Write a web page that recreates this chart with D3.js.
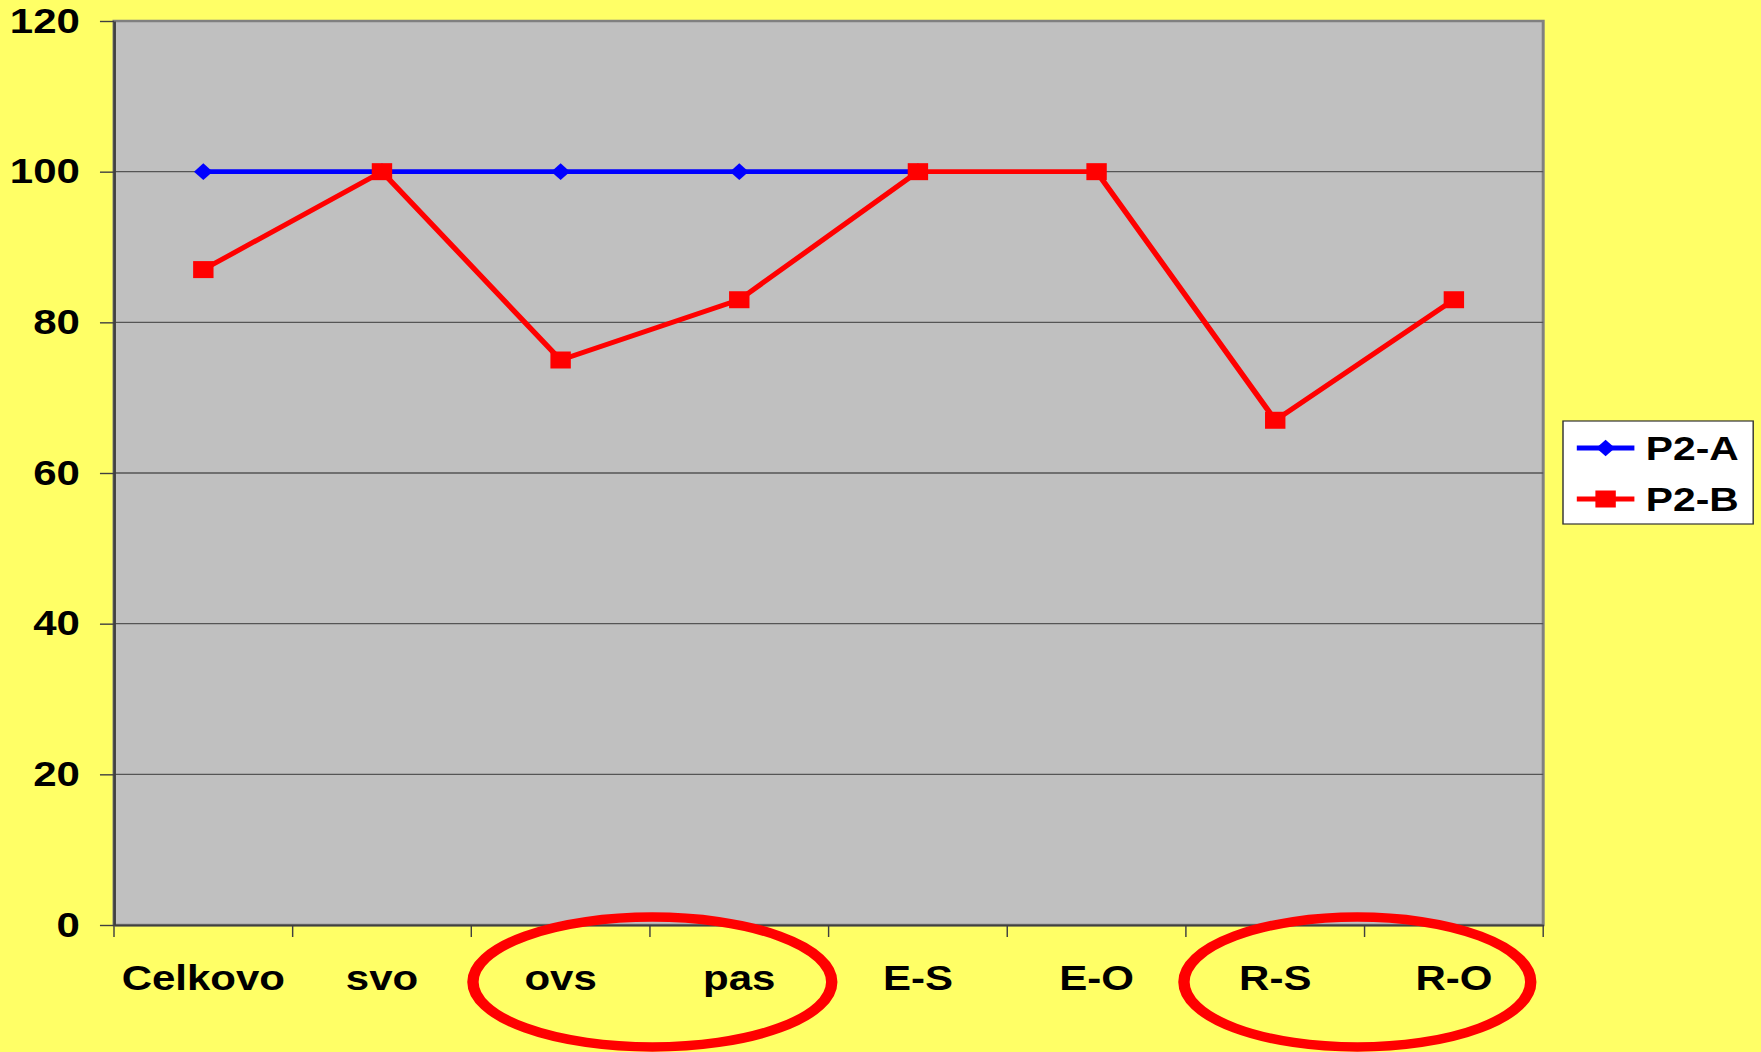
<!DOCTYPE html>
<html>
<head>
<meta charset="utf-8">
<script src="https://cdn.jsdelivr.net/npm/d3@7"></script>
<style>
  html, body { margin: 0; padding: 0; background: #FFFF66; overflow: hidden; }
  text { font-family: Arial, "Liberation Sans", sans-serif; font-weight: bold; fill: #000; }
</style>
</head>
<body>
<div class="viz"></div>
<script>
// data
const categories = ['Celkovo', 'svo', 'ovs', 'pas', 'E-S', 'E-O', 'R-S', 'R-O']
const seriesA = [100, 100, 100, 100, 100, null, null, null]   // P2-A
const seriesB = [87, 100, 75, 83, 100, 100, 67, 83]           // P2-B
const yTicks = [0, 20, 40, 60, 80, 100, 120]
const seriesNames = ['P2-A', 'P2-B']
// circled pairs (the ring sits on the boundary between the two)
const circled = [['ovs', 'pas'], ['R-S', 'R-O']]

const width = 1761
const height = 1052
const stretch = 1.2            // the original picture is stretched sideways
const vw = width / stretch

const plotLeft = 95, plotRight = 1286, plotTop = 21, plotBottom = 925

const svg = d3.select('.viz')
  .append('svg')
  .attr('width', width)
  .attr('height', height)
  .attr('viewBox', `0 0 ${vw} ${height}`)
  .attr('preserveAspectRatio', 'none')
  .style('display', 'block')

svg.append('rect')
  .attr('width', vw).attr('height', height)
  .attr('fill', '#FFFF66')

const x = d3.scaleBand().domain(categories).range([plotLeft, plotRight])
const y = d3.scaleLinear().domain([0, 120]).range([plotBottom, plotTop])

// plot area
svg.append('rect')
  .attr('x', plotLeft).attr('y', plotTop)
  .attr('width', plotRight - plotLeft).attr('height', plotBottom - plotTop)
  .attr('fill', '#C0C0C0')
  .attr('stroke', '#808080')
  .attr('stroke-width', 2.5)

// gridlines
svg.append('g')
  .selectAll('line')
  .data(yTicks.filter(t => t > 0 && t < 120))
  .enter()
  .append('line')
  .attr('x1', plotLeft).attr('x2', plotRight)
  .attr('y1', d => y(d)).attr('y2', d => y(d))
  .attr('stroke', '#555')
  .attr('stroke-width', 1.4)

// y axis
const yAxis = svg.append('g')
  .attr('transform', `translate(${plotLeft},0)`)
  .call(d3.axisLeft(y).tickValues(yTicks).tickSizeInner(11.7).tickSizeOuter(0).tickPadding(16.7))
yAxis.select('.domain').attr('stroke', '#404040').attr('stroke-width', 2.2)
yAxis.selectAll('.tick line').attr('stroke', '#404040').attr('stroke-width', 1.4)
yAxis.selectAll('text').style('font-size', '35px').attr('fill', '#000')

// x axis: labels at band centres, ticks at band edges
const xAxis = svg.append('g')
  .attr('transform', `translate(0,${plotBottom})`)
  .call(d3.axisBottom(x).tickSize(0).tickPadding(40))
xAxis.select('.domain').attr('stroke', '#404040').attr('stroke-width', 2.2)
xAxis.selectAll('text').style('font-size', '35px').attr('fill', '#000')

const edges = categories.map(c => x(c)).concat([x.range()[1]])
svg.append('g')
  .selectAll('line')
  .data(edges)
  .enter()
  .append('line')
  .attr('x1', d => d).attr('x2', d => d)
  .attr('y1', plotBottom).attr('y2', plotBottom + 12)
  .attr('stroke', '#404040')
  .attr('stroke-width', 1.2)

// lines
const cx = i => x(categories[i]) + x.bandwidth() / 2
const line = d3.line()
  .defined(d => d != null)
  .x((d, i) => cx(i))
  .y(d => y(d))

const diamond = (px, py) => `M ${px - 7.8},${py} L ${px},${py - 8.3} L ${px + 7.8},${py} L ${px},${py + 8.3} Z`

svg.append('path')
  .attr('d', line(seriesA))
  .attr('fill', 'none')
  .attr('stroke', '#0000FF')
  .attr('stroke-width', 4.8)

svg.append('g')
  .selectAll('path')
  .data(seriesA.map((v, i) => ({ v, i })).filter(d => d.v != null))
  .enter()
  .append('path')
  .attr('d', d => diamond(cx(d.i), y(d.v)))
  .attr('fill', '#0000FF')

svg.append('path')
  .attr('d', line(seriesB))
  .attr('fill', 'none')
  .attr('stroke', '#FF0000')
  .attr('stroke-width', 4.8)
  .attr('stroke-linejoin', 'round')

svg.append('g')
  .selectAll('rect')
  .data(seriesB)
  .enter()
  .append('rect')
  .attr('x', (d, i) => cx(i) - 8.5)
  .attr('y', d => y(d) - 8.5)
  .attr('width', 17).attr('height', 17)
  .attr('fill', '#FF0000')

// legend
const legend = svg.append('g').attr('transform', 'translate(1302.5,421)')
legend.append('rect')
  .attr('width', 158.5).attr('height', 103)
  .attr('fill', '#fff')
  .attr('stroke', '#333')
  .attr('stroke-width', 1.2)

const rows = legend.selectAll('g.row')
  .data(seriesNames)
  .enter()
  .append('g')
  .attr('class', 'row')
  .attr('transform', (d, i) => `translate(0,${27 + i * 51})`)

rows.append('line')
  .attr('x1', 11.5).attr('x2', 59.5)
  .attr('y1', 0).attr('y2', 0)
  .attr('stroke', (d, i) => i === 0 ? '#0000FF' : '#FF0000')
  .attr('stroke-width', 4.8)

rows.filter((d, i) => i === 0).append('path')
  .attr('d', diamond(35.5, 0))
  .attr('fill', '#0000FF')
rows.filter((d, i) => i === 1).append('rect')
  .attr('x', 27).attr('y', -8.5)
  .attr('width', 17).attr('height', 17)
  .attr('fill', '#FF0000')

rows.append('text')
  .text(d => d)
  .attr('x', 69)
  .attr('dy', '0.36em')
  .style('font-size', '34px')

// red rings round the circled pairs
svg.append('g')
  .selectAll('ellipse')
  .data(circled)
  .enter()
  .append('ellipse')
  .attr('cx', d => x(d[1]) + (d[1] === 'pas' ? 2 : -6))
  .attr('cy', 982)
  .attr('rx', d => d[1] === 'pas' ? 149.5 : 144.5)
  .attr('ry', 65)
  .attr('fill', 'none')
  .attr('stroke', '#FF0000')
  .attr('stroke-width', 9.5)
</script>
</body>
</html>
